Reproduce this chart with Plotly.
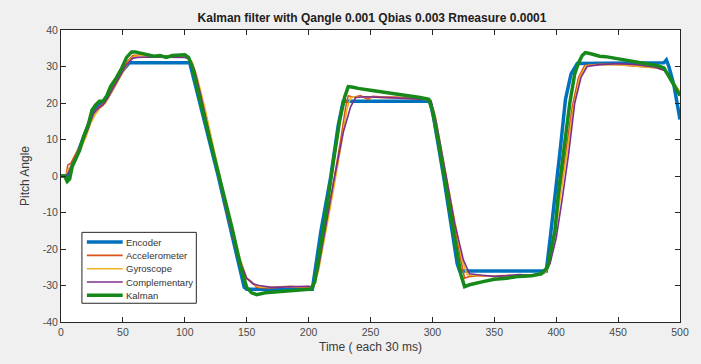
import plotly.graph_objects as go

# ---- data ----
enc_x = [0, 4, 6, 9, 13, 17, 22, 26, 30, 35, 41, 49, 55, 57, 104, 127, 148, 150, 203, 210, 218, 224, 228, 298, 301, 309, 320, 322, 392, 395.5, 400, 403.5, 407.5, 412, 417, 487, 489, 491, 495, 498, 500]
enc_y = [0, 0, -0.5, 3, 6, 9.5, 14, 17.5, 19.5, 20.3, 23.5, 28.5, 31, 31, 31, 0, -30.5, -31, -31, -15, 0, 14, 20.5, 20.5, 16, 0, -24, -26, -26, -16, -3, 8, 21, 28, 30.8, 31, 31.8, 30, 25, 20, 15.5]

acc_x = [0, 4, 5.5, 8, 11, 15, 19, 23, 27, 31, 35, 39, 44, 49, 54, 58, 65, 75, 85, 95, 101, 105, 109, 115, 124, 134, 143, 149, 152, 154, 158, 165, 175, 185, 195, 203, 207, 212, 219, 226, 230, 232, 236, 242, 248, 252, 260, 270, 280, 290, 297, 301, 308, 316, 323, 326, 330, 340, 350, 360, 370, 380, 390, 394, 398, 403, 408, 413, 418, 423, 435, 450, 465, 480, 488, 492, 496, 500]
acc_y = [0, 0, 3, 3.5, 5.5, 8, 11, 15, 17.5, 19, 20, 22.5, 25.5, 28.5, 31.5, 33, 33.2, 32.9, 32.8, 32.9, 33, 31.5, 27, 19, 5, -10, -22, -28, -28.5, -29, -30.5, -30.7, -30.5, -30.2, -30.5, -30.3, -26, -17, -4, 10, 19, 22, 21.6, 22, 21, 21.8, 21.6, 21.6, 21.4, 21.3, 21, 17, 4, -11, -23, -28, -27.5, -27.3, -27.5, -27.4, -27.2, -27.2, -26.6, -24, -16, -5, 7, 19, 27, 30.3, 30.6, 30.5, 30.2, 29.7, 29, 27, 25, 23]

gyr_x = [0, 4, 6, 9, 12, 16, 20, 24, 28, 32, 36, 40, 45, 50, 55, 59, 66, 76, 86, 96, 102, 106, 110, 116, 125, 135, 144, 150, 155, 160, 170, 180, 190, 200, 204, 208, 213, 220, 227, 231, 234, 240, 250, 260, 270, 280, 290, 298, 302, 309, 317, 324, 328, 335, 345, 355, 365, 375, 385, 391, 395, 399, 404, 409, 414, 419, 424, 435, 450, 465, 480, 488, 492, 496, 500]
gyr_y = [0, 0, 2, 3, 5, 7.5, 10.5, 14.5, 17, 18.8, 20, 22.5, 25.5, 28.5, 31.5, 32.8, 33, 32.8, 32.7, 32.8, 32.8, 31.2, 27, 19, 5, -10, -22, -28, -29.5, -30.4, -30.5, -30.3, -30.4, -30.3, -30.2, -26, -17, -4, 10, 18.5, 21.5, 21.7, 21.6, 21.5, 21.4, 21.3, 21.1, 20.8, 17, 4, -11, -23, -27, -27.3, -27.4, -27.3, -27.2, -27.1, -27, -26.6, -24, -16, -5, 7, 19, 27, 30.2, 30.5, 30.5, 30.2, 29.7, 29, 27, 25, 23]

cmp_x = [0, 4, 6, 9, 13, 17, 22, 26, 30, 34, 38, 42, 48, 53, 58, 62, 70, 80, 90, 100, 104, 108, 113, 122, 132, 142, 150, 155, 160, 170, 180, 190, 200, 204, 208, 213, 220, 228, 234, 238, 245, 255, 265, 275, 285, 295, 299, 303, 310, 318, 325, 330, 340, 350, 360, 370, 380, 390, 395, 400, 405, 410, 415, 420, 425, 435, 450, 465, 480, 487, 492, 496, 500]
cmp_y = [0, 0, 1, 3, 6, 9, 13, 17, 18.5, 19.5, 21.5, 24, 27.5, 30.5, 32.3, 32.5, 32.6, 32.5, 32.6, 32.5, 32, 29, 22, 8, -7, -21, -28, -29.5, -30, -30.5, -30.3, -30.3, -30.2, -30.5, -25, -15, -2, 12, 19, 21.5, 21.7, 21.6, 21.5, 21.3, 21.2, 21, 20.5, 15, 2, -13, -23, -26.8, -27.2, -27.5, -27.3, -27, -27.2, -26.5, -24, -17, -6, 6, 20, 27, 30, 30.5, 30.8, 30.5, 29.8, 29, 27, 24.5, 22.5]

kal_x = [0, 3, 5, 7, 9, 12, 15, 18, 22, 25, 28, 31, 34, 37, 40, 44, 49, 53, 57, 60, 65, 70, 75, 80, 85, 90, 95, 100, 103, 106, 110, 118, 128, 138, 146, 150, 154, 158, 165, 175, 185, 195, 202, 205, 210, 215, 220, 225, 229, 232, 236, 240, 250, 260, 270, 280, 290, 297, 300, 305, 312, 318, 323, 326, 330, 340, 350, 360, 370, 380, 388, 393, 396, 399, 402, 406.5, 411, 415, 418, 421, 423.5, 428, 435, 440, 447, 455, 465, 475, 482, 487, 491, 495, 500]
kal_y = [0, 0, -1.5, -0.8, 2.5, 5, 7, 10.5, 14, 18, 19.5, 20.5, 20.5, 22, 24.5, 26.5, 29.5, 32.5, 34, 34, 33.6, 33.3, 32.8, 33, 32.5, 33, 33, 33.2, 32.5, 30, 24, 13, 0, -14, -26, -30.5, -32, -32.5, -32, -31.7, -31.3, -31.2, -31, -29, -19, -8, 4, 15, 21.5, 24.5, 24.3, 24, 23.5, 23, 22.6, 22, 21.5, 21, 18, 9, -5, -17, -27, -30.3, -29.8, -29, -28.3, -28, -27.5, -27.3, -26.8, -25, -20, -15, -4, 7.6, 20, 28, 31, 33, 33.8, 33.5, 32.8, 32.7, 32.3, 31.8, 31.2, 30.6, 30.2, 29.6, 27.5, 25, 22]

names = ["Encoder", "Accelerometer", "Gyroscope", "Complementary", "Kalman"]
colors = ["#0072BD", "#D95319", "#EDB120", "#7E2F8E", "#16891A"]
widths = [3.5, 1.6, 1.6, 1.6, 3.5]
xs_all = [enc_x, acc_x, gyr_x, cmp_x, kal_x]
ys_all = [enc_y, acc_y, gyr_y, cmp_y, kal_y]

x_ticks = [0, 50, 100, 150, 200, 250, 300, 350, 400, 450, 500]
y_ticks = [-40, -30, -20, -10, 0, 10, 20, 30, 40]

FONT = "Liberation Sans, Arial"

fig = go.Figure()
for name, xs, ys, col, w in zip(names, xs_all, ys_all, colors, widths):
    fig.add_trace(go.Scatter(x=xs, y=ys, mode="lines", name=name,
                             line=dict(color=col, width=w), showlegend=False))

# ---- compact MATLAB-style legend (box, line samples, labels) ----
leg_x0, leg_x1, leg_y0, leg_y1 = 0.0338, 0.2186, 0.0642, 0.307
row_top, row_step = 0.2736, 0.0456
fig.add_shape(type="rect", xref="paper", yref="paper", x0=leg_x0, x1=leg_x1, y0=leg_y0, y1=leg_y1,
              line=dict(color="#262626", width=1), fillcolor="#ffffff", layer="above")
for i, (name, col, w) in enumerate(zip(names, colors, widths)):
    yy = row_top - i * row_step
    fig.add_shape(type="line", xref="paper", yref="paper", x0=0.0418, x1=0.0997, y0=yy, y1=yy,
                  line=dict(color=col, width=w), layer="above")
    fig.add_annotation(xref="paper", yref="paper", x=0.1013, y=yy, text=name, showarrow=False,
                       xanchor="left", yanchor="middle",
                       font=dict(family=FONT, size=9.5, color="#333333"))

axis_common = dict(showline=True, linecolor="#262626", linewidth=1, mirror="ticks",
                   ticks="inside", ticklen=5, tickcolor="#262626", showgrid=False,
                   zeroline=False, tickfont=dict(family=FONT, size=10.5, color="#4a4a4a"))

fig.update_layout(
    width=701, height=364,
    margin=dict(l=61, r=18, t=30, b=39),
    paper_bgcolor="#f0f0f0", plot_bgcolor="#ffffff",
    title=dict(text="<b>Kalman filter with Qangle 0.001 Qbias 0.003 Rmeasure 0.0001</b>",
               x=372 / 701, xanchor="center", y=1 - 18 / 364, yanchor="middle",
               font=dict(family=FONT, size=12, color="#202020")),
    xaxis=dict(range=[0, 500], tickvals=x_ticks, ticktext=[str(v) for v in x_ticks],
               title=dict(text="Time ( each 30 ms)", standoff=6,
                          font=dict(family=FONT, size=12, color="#3a3a3a")),
               **axis_common),
    yaxis=dict(range=[-40, 40], tickvals=y_ticks, ticktext=[str(v) for v in y_ticks],
               title=dict(text="Pitch Angle", standoff=10,
                          font=dict(family=FONT, size=12, color="#3a3a3a")),
               **axis_common),
    showlegend=False,
)

fig.write_html("out.html")
